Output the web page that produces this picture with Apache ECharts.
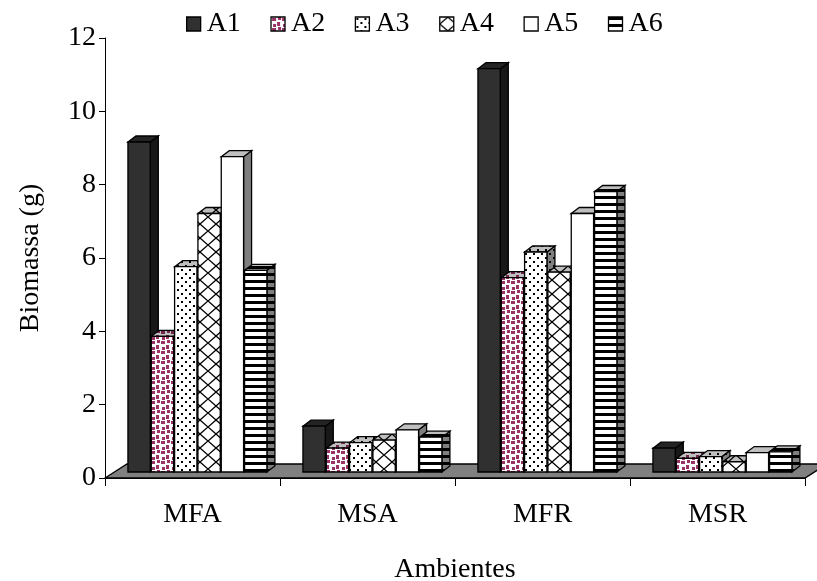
<!DOCTYPE html>
<html>
<head>
<meta charset="utf-8">
<title>Biomassa por ambiente</title>
<script src="https://cdn.jsdelivr.net/npm/echarts@6/dist/echarts.min.js"></script>
<style>
  html, body { margin: 0; padding: 0; background: #fff; }
  #chart { width: 817px; height: 581px; }
</style>
</head>
<body>
<div id="chart"></div>
<script>
// Environments on the category axis
const categories = ['MFA', 'MSA', 'MFR', 'MSR'];
// Treatments shown in the legend
const seriesNames = ['A1', 'A2', 'A3', 'A4', 'A5', 'A6'];
// Biomass (g) per environment, one array per treatment
const A1 = [9.0, 1.25, 11.0, 0.65];
const A2 = [3.7, 0.65, 5.3, 0.37];
const A3 = [5.6, 0.8, 6.0, 0.42];
const A4 = [7.05, 0.87, 5.45, 0.28];
const A5 = [8.6, 1.15, 7.05, 0.53];
const A6 = [5.5, 0.95, 7.65, 0.55];
const seriesValues = [A1, A2, A3, A4, A5, A6];
// Value axis ticks
const yTicks = [0, 2, 4, 6, 8, 10, 12];

const FONT = '"Liberation Serif", "Times New Roman", serif';
const FS = 28;

// --- fill patterns -------------------------------------------------------
function tile(w, h, draw) {
  const c = document.createElement('canvas');
  c.width = w; c.height = h;
  const g = c.getContext('2d');
  g.fillStyle = '#fff';
  g.fillRect(0, 0, w, h);
  draw(g);
  return { image: c, repeat: 'repeat' };
}
const fills = [
  '#303030',
  tile(10, 10, g => {            // confetti squares
    g.fillStyle = '#993366';
    g.fillRect(1, 1, 4, 3);
    g.fillRect(6, 5, 3, 4);
    g.fillRect(2, 7, 3, 3);
    g.fillRect(7, 0, 3, 3);
  }),
  tile(8, 8, g => {              // dots
    g.fillStyle = '#000';
    g.fillRect(1, 1, 2, 2);
    g.fillRect(5, 5, 2, 2);
  }),
  tile(16, 14, g => {            // diamond lattice
    g.strokeStyle = '#000';
    g.lineWidth = 1.3;
    g.beginPath();
    g.moveTo(0, 7); g.lineTo(8, 0); g.lineTo(16, 7); g.lineTo(8, 14); g.closePath();
    g.stroke();
  }),
  '#ffffff',
  tile(4, 7, g => {              // horizontal stripes
    g.fillStyle = '#000';
    g.fillRect(0, 0, 4, 3);
  })
];

// --- 3D-looking bars ----------------------------------------------------
const DEPTH_X = 8, DEPTH_Y = -6, LIFT = 6, N = seriesNames.length;

function barRenderer(sIdx) {
  return function (params, api) {
    const c = api.value(0), v = api.value(1);
    const base = api.coord([c, 0]);
    const top = api.coord([c, v]);
    const cw = api.size([1, 0])[0];
    const pitch = cw * 0.1333;
    const x0 = base[0] + cw * 0.031 - (N / 2) * pitch + sIdx * pitch;
    const x1 = x0 + pitch - 1;
    const yb = base[1] - LIFT, yt = top[1] - LIFT;
    const fill = fills[sIdx];
    const line = { stroke: '#000', lineWidth: 1.3, lineJoin: 'miter' };
    const side = [[x1, yt], [x1 + DEPTH_X, yt + DEPTH_Y], [x1 + DEPTH_X, yb + DEPTH_Y], [x1, yb]];
    const cap = [[x0, yt], [x0 + DEPTH_X, yt + DEPTH_Y], [x1 + DEPTH_X, yt + DEPTH_Y], [x1, yt]];
    return {
      type: 'group',
      children: [
        { type: 'polygon', shape: { points: side }, style: { fill: fill } },
        { type: 'polygon', shape: { points: side }, style: Object.assign({ fill: 'rgba(0,0,0,0.5)' }, line) },
        { type: 'polygon', shape: { points: cap }, style: { fill: fill } },
        { type: 'polygon', shape: { points: cap }, style: Object.assign({ fill: 'rgba(0,0,0,0.25)' }, line) },
        { type: 'rect', shape: { x: x0, y: yt, width: x1 - x0, height: yb - yt }, style: Object.assign({ fill: fill }, line) }
      ]
    };
  };
}

// Floor plane under the bars
function floorRenderer(params, api) {
  const cs = params.coordSys;
  const y0 = cs.y + cs.height;
  const pts = [[cs.x, y0], [cs.x + cs.width, y0],
               [cs.x + cs.width + 22, y0 - 14], [cs.x + 22, y0 - 14]];
  return {
    type: 'polygon',
    shape: { points: pts },
    style: { fill: '#808080', stroke: '#000', lineWidth: 1.3 }
  };
}

const series = [{
  type: 'custom',
  name: 'floor',
  renderItem: floorRenderer,
  data: [[0, 0]],
  silent: true,
  z: 1
}];
seriesNames.forEach((name, i) => {
  series.push({
    type: 'custom',
    name: name,
    renderItem: barRenderer(i),
    data: seriesValues[i].map((v, j) => [j, v]),
    itemStyle: { color: typeof fills[i] === 'string' ? fills[i] : '#fff' },
    z: 2
  });
});

const chart = echarts.init(document.getElementById('chart'), null, { renderer: 'canvas' });
chart.setOption({
  animation: false,
  backgroundColor: '#fff',
  textStyle: { fontFamily: FONT, color: '#000' },
  legend: {
    top: 5,
    left: 181,
    itemWidth: 14,
    itemHeight: 14,
    itemGap: 29.5,
    icon: 'rect',
    textStyle: { fontFamily: FONT, fontSize: FS, color: '#000', padding: [0, 0, 0, 1] },
    data: seriesNames.map((n, i) => ({
      name: n,
      itemStyle: { color: fills[i], borderColor: '#000', borderWidth: 1.3 }
    }))
  },
  grid: { left: 105, right: 12, top: 38, bottom: 103, containLabel: false, outerBoundsMode: 'none' },
  xAxis: {
    type: 'category',
    data: categories,
    name: 'Ambientes',
    nameLocation: 'middle',
    nameGap: 78,
    nameTextStyle: { fontFamily: FONT, fontSize: FS, color: '#000' },
    axisLine: { lineStyle: { color: '#000', width: 1 } },
    axisTick: { show: true, length: 8, lineStyle: { color: '#000' } },
    axisLabel: { fontFamily: FONT, fontSize: FS, color: '#000', margin: 23 },
    splitLine: { show: false }
  },
  yAxis: {
    type: 'value',
    min: yTicks[0],
    max: yTicks[yTicks.length - 1],
    interval: yTicks[1] - yTicks[0],
    name: 'Biomassa (g)',
    nameLocation: 'middle',
    nameGap: 60,
    nameTextStyle: { fontFamily: FONT, fontSize: FS, color: '#000' },
    axisLine: { show: true, lineStyle: { color: '#000', width: 1 } },
    axisTick: { show: true, length: 6, lineStyle: { color: '#000' } },
    axisLabel: { fontFamily: FONT, fontSize: FS, color: '#000', margin: 9 },
    splitLine: { show: false }
  },
  series: series
});
</script>
</body>
</html>
